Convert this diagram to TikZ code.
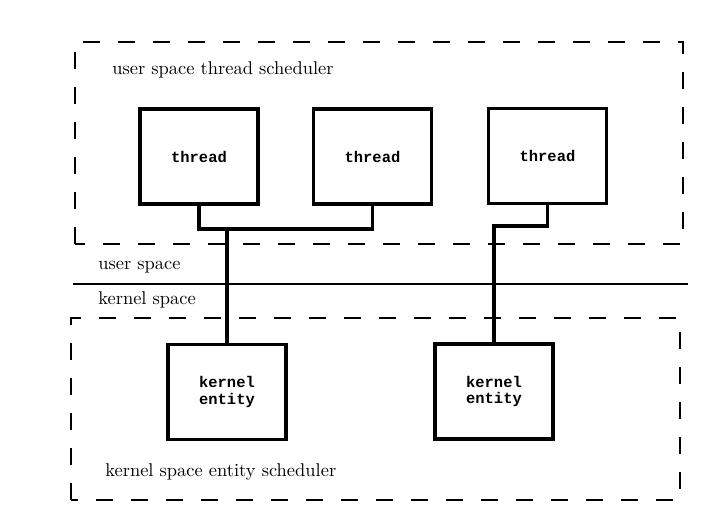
\documentclass[tikz,border=0pt]{standalone}
\usepackage{fontspec}
\setmonofont{Liberation Mono}
\begin{document}
\begin{tikzpicture}[x=0.02cm,y=-0.02cm,
    tbox/.style={draw,line width=2.2pt,minimum width=2.36cm,minimum height=1.9cm,
      align=center,font=\fontsize{8.8}{9.4}\selectfont\ttfamily\bfseries},
    wire/.style={line width=1.8pt,line join=miter},
    dashbox/.style={line width=1.1pt,dash pattern=on 0.34cm off 0.36cm},
    lbl/.style={anchor=west,inner sep=0pt,font=\fontsize{10.5}{12}\selectfont}]
    \useasboundingbox (0,0) rectangle (704,515);
    \draw[dashbox] (75,244) -- (75,42) -- (683,42) -- (683,244) -- cycle;
    \draw[dashbox] (71,500) -- (71,318) -- (680,318) -- (680,500) -- cycle;
    \node[lbl] (US) at (112,70) {user space thread scheduler};
    \node[lbl] (KS) at (105,472) {kernel space entity scheduler};
    \node[lbl] (U) at (98,267) {user space}; \node[lbl] (K) at (98,300) {kernel space};
    \coordinate (L1) at (73,284); \coordinate (L2) at (688,284);
    \draw[line width=1.2pt] (L1) -- (L2);

    \node[tbox] (T1) at (199,156.5) {thread}; \node[tbox] (T2) at (372.5,156.5) {thread};
    \node[tbox] (T3) at (547.5,156) {thread};
    \node[tbox] (K1) at (227,392) {kernel\\entity}; \node[tbox] (K2) at (494,391.5)
    {kernel\\entity};

    \coordinate (J1) at (227,229); \coordinate (J2) at (494,226);
    \draw[wire] (T1.south) |- (J1) -| (T2.south); \draw[wire] (J1) -- (K1.north);
    \draw[wire] (T3.south) |- (J2) -- (K2.north);
\end{tikzpicture}
\end{document}
